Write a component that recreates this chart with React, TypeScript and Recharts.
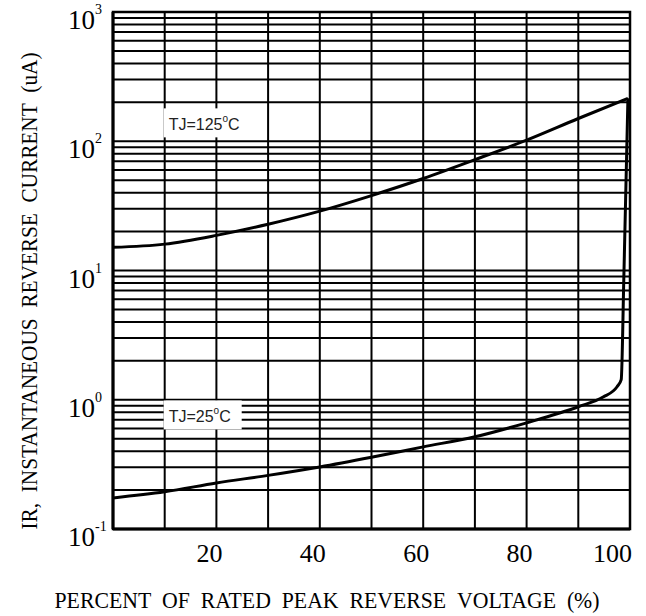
import React from "react"
import {
  LineChart,
  Line,
  XAxis,
  YAxis,
  CartesianGrid,
  ReferenceDot,
  ReferenceArea,
  Label,
} from "recharts"

// percent of rated peak reverse voltage
const hotVoltage = [0, 10, 20, 30, 40, 50, 60, 70, 80, 90, 99.6]
const hotCurrent = [15.1, 16.0, 18.7, 22.8, 28.8, 38, 51.5, 72, 102, 150, 215]

const coldVoltage = [0, 10, 20, 30, 40, 50, 60, 70, 80, 90, 94.8, 97.5, 98.3, 98.8, 99.6]
const coldCurrent = [
  0.174, 0.194, 0.227, 0.26, 0.302, 0.359, 0.432, 0.517, 0.663, 0.883, 1.05, 1.26, 1.43, 8.5, 215,
]

const xGrid = [0, 10, 20, 30, 40, 50, 60, 70, 80, 90, 100]
const xLabels = [20, 40, 60, 80, 100]
const decades = [0.1, 1, 10, 100]
const mantissas = [1, 2, 3, 4, 5, 6, 7, 8, 9]
const yGrid = [...decades.flatMap((d) => mantissas.map((m) => m * d)), 1000]

const tempLabels = [
  { x: 10, y: 140, temp: "125" },
  { x: 10, y: 0.77, temp: "25" },
]

const xTitle = "PERCENT\u00a0\u00a0OF\u00a0\u00a0RATED\u00a0\u00a0PEAK\u00a0\u00a0REVERSE\u00a0\u00a0VOLTAGE\u00a0\u00a0(%)"
const yTitle = "IR,\u00a0\u00a0INSTANTANEOUS\u00a0\u00a0REVERSE\u00a0\u00a0CURRENT\u00a0\u00a0(uA)"

const hotData = hotVoltage.map((x, i) => ({ x, y: hotCurrent[i] }))
const coldData = coldVoltage.map((x, i) => ({ x, y: coldCurrent[i] }))

const serif = "'Liberation Serif', serif"
const sans = "'Liberation Sans', Arial, sans-serif"

function YTick(props: any) {
  const { x, y, payload } = props
  const lg = Math.log10(payload.value)
  const e = Math.round(lg)
  if (Math.abs(lg - e) > 1e-6) return null
  return (
    <text x={x - 45} y={y + 17} fontFamily={serif} fontSize={27} fill="#000">
      10
      <tspan dy={-15} fontSize={14}>
        {e}
      </tspan>
    </text>
  )
}

function XTick(props: any) {
  const { x, y, payload } = props
  const v = payload.value
  if (!xLabels.includes(v)) return null
  const last = v === xLabels[xLabels.length - 1]
  return (
    <text
      x={last ? x + 2 : x - 7}
      y={y + 33}
      textAnchor={last ? "end" : "middle"}
      fontFamily={serif}
      fontSize={26}
      fill="#000"
    >
      {v}
    </text>
  )
}

function TempBox(props: any) {
  const { cx, cy, temp } = props
  const w = 60 + 9 * temp.length
  return (
    <g>
      <rect x={cx - 1} y={cy - 14} width={w} height={29} fill="#fff" />
      <text x={cx + 4} y={cy + 8} fontFamily={sans} fontSize={16} fill="#222">
        TJ={temp}
        <tspan dy={-8} fontSize={10}>
          o
        </tspan>
        <tspan dy={8}>C</tspan>
      </text>
    </g>
  )
}

export default function App() {
  return (
    <div
      style={{
        position: "absolute",
        left: 0,
        top: 0,
        width: 646,
        height: 616,
        background: "#fff",
      }}
    >
      <LineChart width={646} height={616} margin={{ top: 12, right: 16, left: 0, bottom: 0 }}>
        <CartesianGrid stroke="#000" strokeWidth={2} strokeOpacity={1} fill="none" />
        <XAxis
          dataKey="x"
          type="number"
          domain={[0, 100]}
          ticks={xGrid}
          interval={0}
          height={87}
          tickLine={false}
          tickSize={0}
          tickMargin={0}
          axisLine={{ stroke: "#000", strokeWidth: 3 }}
          tick={<XTick />}
          allowDataOverflow
        >
          <Label
            content={() => (
              <text
                x={0}
                y={0}
                transform="translate(327 608) scale(1 1.2)"
                textAnchor="middle"
                fontFamily={serif}
                fontSize={20}
                fill="#000"
                textLength={545}
                lengthAdjust="spacingAndGlyphs"
              >
                {xTitle}
              </text>
            )}
          />
        </XAxis>
        <YAxis
          type="number"
          scale="log"
          domain={[0.1, 1000]}
          ticks={yGrid}
          interval={0}
          width={113}
          tickLine={false}
          tickSize={0}
          tickMargin={0}
          axisLine={{ stroke: "#000", strokeWidth: 3 }}
          tick={<YTick />}
          allowDataOverflow
        >
          <Label
            content={() => (
              <text
                x={0}
                y={0}
                transform="translate(37 291) rotate(-90) scale(1 1.2)"
                textAnchor="middle"
                fontFamily={serif}
                fontSize={20}
                fill="#000"
                textLength={477}
                lengthAdjust="spacingAndGlyphs"
              >
                {yTitle}
              </text>
            )}
          />
        </YAxis>
        <ReferenceArea
          x1={0}
          x2={100}
          y1={0.1}
          y2={1000}
          fill="none"
          stroke="#000"
          strokeWidth={2.5}
          ifOverflow="visible"
        />
        {tempLabels.map((t) => (
          <ReferenceDot
            key={t.temp}
            x={t.x}
            y={t.y}
            r={1}
            ifOverflow="visible"
            shape={(p: any) => <TempBox {...p} temp={t.temp} />}
          />
        ))}
        <Line
          data={hotData}
          dataKey="y"
          type="monotone"
          stroke="#000"
          strokeWidth={3}
          dot={false}
          isAnimationActive={false}
        />
        <Line
          data={coldData}
          dataKey="y"
          type="monotone"
          stroke="#000"
          strokeWidth={3}
          dot={false}
          isAnimationActive={false}
        />
      </LineChart>
    </div>
  )
}
